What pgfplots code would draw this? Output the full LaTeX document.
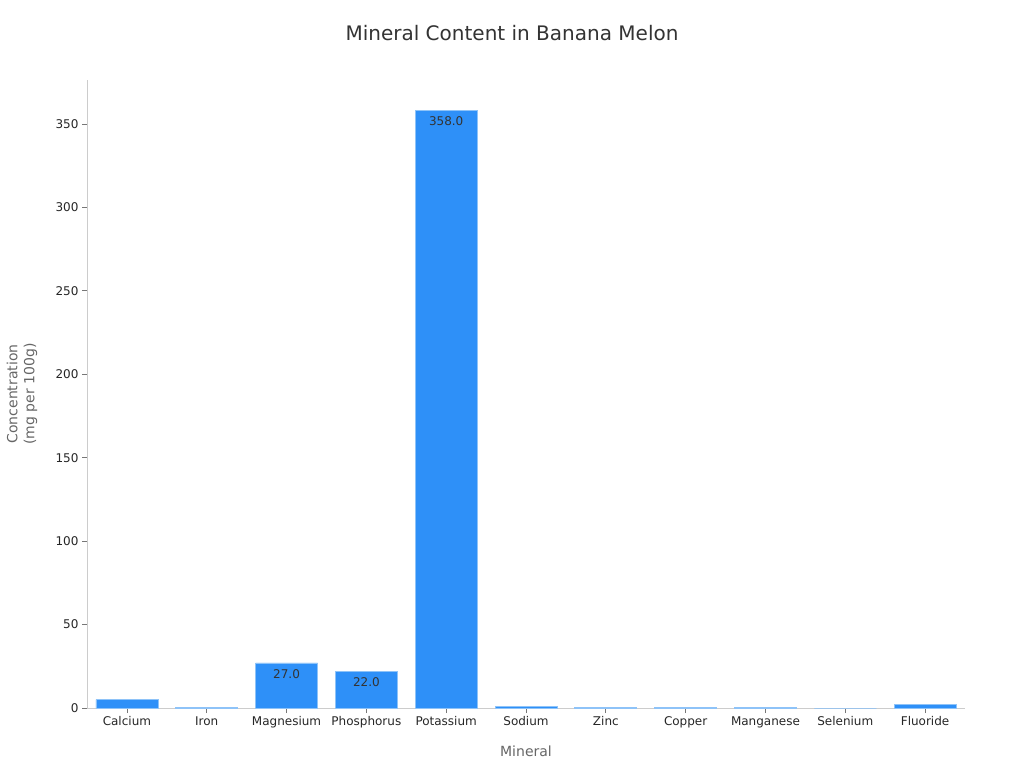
\documentclass[border=0pt]{standalone}
\usepackage{pgfplots}
\pgfplotsset{compat=1.18}
\usepackage{fontspec}
\setmainfont{DejaVu Sans}

\definecolor{barblue}{HTML}{2E90F8}
\definecolor{baredge}{HTML}{8EC3F8}
\definecolor{spine}{HTML}{CCCCCC}
\definecolor{tickgray}{HTML}{777777}
\definecolor{labelgray}{HTML}{666666}
\definecolor{ticktext}{HTML}{262626}
\definecolor{titletext}{HTML}{333333}

\begin{document}
\begin{tikzpicture}
\path[use as bounding box] (-87pt,-60pt) rectangle (937pt,708pt);
\begin{axis}[
    at={(0pt,0pt)}, anchor=south west,
    scale only axis,
    width=878pt, height=628pt,
    ybar, bar width=62pt, bar shift=0pt,
    xmin=-0.5, xmax=10.5,
    ymin=0, ymax=376.4,
    xtick={0,...,10},
    xticklabels={Calcium,Iron,Magnesium,Phosphorus,Potassium,Sodium,Zinc,Copper,Manganese,Selenium,Fluoride},
    ytick={0,50,...,350},
    axis x line*=bottom, axis y line*=left,
    axis line style={spine, line width=0.8pt, -},
    tick style={tickgray, line width=0.8pt},
    tick align=outside,
    major tick length=5pt,
    ticklabel style={font=\fontsize{12}{14}\selectfont, text=ticktext},
    /pgf/number format/assume math mode=true,
    title={Mineral Content in Banana Melon},
    title style={font=\fontsize{20}{24}\selectfont, text=titletext, at={(0.5,1)}, anchor=center, xshift=-14pt, yshift=41pt},
    xlabel={Mineral},
    xlabel style={font=\fontsize{14}{16}\selectfont, text=labelgray, at={(0.5,0)}, anchor=center, yshift=-43pt},
    ylabel={Concentration\\(mg per 100g)},
    ylabel style={font=\fontsize{14}{17}\selectfont, text=labelgray, align=center, at={(0,0.5)}, anchor=center, yshift=65pt},
    point meta=explicit symbolic,
    nodes near coords,
    nodes near coords style={anchor=north, yshift=-2.5pt, font=\fontsize{12}{14}\selectfont, text=titletext},
  ]
  \addplot[fill=barblue, draw=baredge, line width=0.8pt] coordinates {
    (0,5.0) []
    (1,0.3) []
    (2,27.0) [27.0]
    (3,22.0) [22.0]
    (4,358.0) [358.0]
    (5,1.0) []
    (6,0.1) []
    (7,0.1) []
    (8,0.2) []
    (9,0.0) []
    (10,2.2) []
  };
\end{axis}
\end{tikzpicture}
\end{document}
